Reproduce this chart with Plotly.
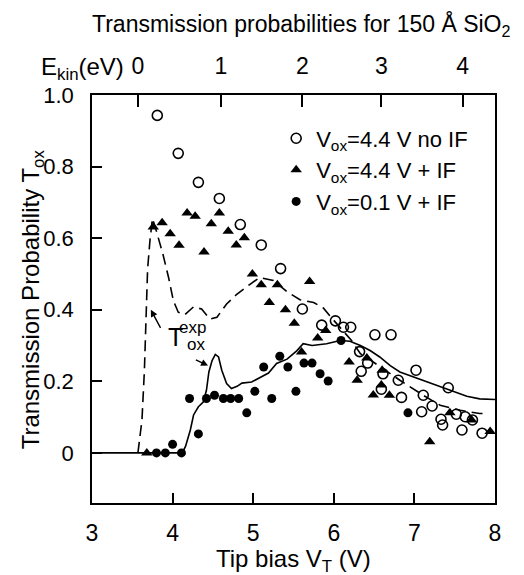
import plotly.graph_objects as go

# ---- data ----
# open circles: Vox = 4.4 V, no IF
no_if_v = [3.81, 4.07, 4.32, 4.58, 4.84, 5.10, 5.34, 5.61, 5.85, 6.02, 6.12, 6.21, 6.32, 6.34,
           6.42, 6.51, 6.59, 6.61, 6.71, 6.80, 6.84, 7.02, 7.09, 7.11, 7.22, 7.33, 7.35, 7.42,
           7.52, 7.59, 7.63, 7.72, 7.84]
no_if_t = [0.943, 0.837, 0.756, 0.711, 0.638, 0.581, 0.515, 0.402, 0.357, 0.369, 0.351, 0.351, 0.283, 0.228,
           0.251, 0.330, 0.178, 0.221, 0.330, 0.203, 0.155, 0.231, 0.115, 0.161, 0.131, 0.094, 0.078, 0.182,
           0.108, 0.064, 0.101, 0.092, 0.055]

# filled triangles: Vox = 4.4 V + IF
if44_v = [3.68, 3.76, 3.87, 3.97, 4.08, 4.18, 4.28, 4.39, 4.48, 4.58, 4.69, 4.79, 4.89, 4.99, 5.10,
          5.20, 5.30, 5.40, 5.51, 5.60, 5.70, 5.80, 5.90, 6.19, 6.29, 6.41, 6.49, 6.59, 6.60, 6.69,
          7.19, 7.44, 7.71, 7.94]
if44_t = [0.0, 0.631, 0.643, 0.612, 0.580, 0.670, 0.661, 0.561, 0.640, 0.670, 0.619, 0.581, 0.601, 0.500, 0.470,
          0.420, 0.470, 0.400, 0.362, 0.282, 0.479, 0.321, 0.342, 0.254, 0.203, 0.265, 0.162, 0.190, 0.231, 0.161,
          0.031, 0.112, 0.092, 0.060]

# filled circles: Vox = 0.1 V + IF
if01_v = [3.80, 3.91, 4.00, 4.11, 4.21, 4.32, 4.42, 4.52, 4.63, 4.72, 4.82, 4.92, 5.02, 5.13, 5.23,
          5.33, 5.43, 5.53, 5.63, 5.73, 5.83, 5.93, 6.09, 6.92]
if01_t = [0.0, 0.0, 0.024, 0.0, 0.152, 0.053, 0.152, 0.161, 0.152, 0.152, 0.152, 0.112, 0.172, 0.240, 0.152,
          0.270, 0.240, 0.172, 0.251, 0.251, 0.221, 0.201, 0.314, 0.112]

# T_ox^exp, solid curve
solid_v = [3.00, 4.00, 4.12, 4.16, 4.22, 4.26, 4.32, 4.38, 4.42, 4.45, 4.49, 4.53, 4.57, 4.61, 4.67,
           4.73, 4.80, 4.86, 4.98, 5.08, 5.19, 5.29, 5.42, 5.54, 5.62, 5.73, 5.91, 6.08, 6.20,
           6.33, 6.45, 6.57, 6.70, 6.82, 6.99, 7.15, 7.32, 7.48, 7.65, 7.81, 8.00]
solid_t = [0.0, 0.0, 0.0, 0.018, 0.064, 0.106, 0.129, 0.142, 0.175, 0.226, 0.258, 0.275, 0.268, 0.231, 0.194,
           0.180, 0.186, 0.195, 0.198, 0.210, 0.223, 0.250, 0.262, 0.285, 0.305, 0.300, 0.305, 0.314, 0.312,
           0.300, 0.286, 0.268, 0.244, 0.226, 0.212, 0.198, 0.183, 0.170, 0.158, 0.151, 0.149]

# T_ox^exp, dashed curve
dash_v = [3.57, 3.62, 3.65, 3.67, 3.69, 3.72, 3.75, 3.80, 3.88, 3.95, 4.01, 4.07, 4.15, 4.26, 4.36,
          4.46, 4.55, 4.67, 4.80, 4.96, 5.08, 5.25, 5.42, 5.58, 5.75, 5.87, 5.95, 6.22, 6.33, 6.43,
          6.82, 7.11, 7.32, 7.57, 7.81, 7.90]
dash_t = [0.0, 0.092, 0.230, 0.369, 0.514, 0.596, 0.655, 0.619, 0.555, 0.490, 0.425, 0.393, 0.386, 0.408, 0.402,
          0.374, 0.379, 0.416, 0.444, 0.471, 0.490, 0.482, 0.450, 0.428, 0.420, 0.405, 0.383, 0.314, 0.277, 0.263,
          0.203, 0.161, 0.133, 0.119, 0.110, 0.110]

# axes
x_tick_vals = [3, 4, 5, 6, 7, 8]
x_tick_text = ["3", "4", "5", "6", "7", "8"]
y_tick_vals = [0, 0.2, 0.4, 0.6, 0.8, 1.0]
y_tick_text = ["0", "0.2", "0.4", "0.6", "0.8", "1.0"]
ekin_tip_bias = [3.57, 4.60, 5.61, 6.59, 7.60]
ekin_labels = ["0", "1", "2", "3", "4"]

FONT = "Arial, Liberation Sans, sans-serif"
BLACK = "black"

fig = go.Figure()

fig.add_trace(go.Scatter(x=solid_v, y=solid_t, mode="lines",
                         line=dict(color=BLACK, width=1.6), showlegend=False, hoverinfo="skip"))
fig.add_trace(go.Scatter(x=dash_v, y=dash_t, mode="lines",
                         line=dict(color=BLACK, width=1.6, dash="11px,6px"), showlegend=False,
                         hoverinfo="skip"))
fig.add_trace(go.Scatter(x=no_if_v, y=no_if_t, mode="markers", name="V<sub>ox</sub>=4.4 V no IF",
                         marker=dict(symbol="circle-open", size=10, color=BLACK, line=dict(width=1.6))))
fig.add_trace(go.Scatter(x=if44_v, y=if44_t, mode="markers", name="V<sub>ox</sub>=4.4 V + IF",
                         marker=dict(symbol="triangle-up", size=10, color=BLACK)))
fig.add_trace(go.Scatter(x=if01_v, y=if01_t, mode="markers", name="V<sub>ox</sub>=0.1 V + IF",
                         marker=dict(symbol="circle", size=9, color=BLACK)))
# invisible trace to anchor the top (E_kin) axis
fig.add_trace(go.Scatter(x=ekin_tip_bias, y=[None] * len(ekin_tip_bias), xaxis="x2",
                         mode="markers", showlegend=False, hoverinfo="skip"))

# the page body has an 8px default margin, so the figure is 8px smaller than the window
fig.update_layout(
    width=516, height=567,
    margin=dict(l=84, r=29, t=87, b=72, autoexpand=False),
    paper_bgcolor="white", plot_bgcolor="white",
    font=dict(family=FONT, size=22, color=BLACK),
    xaxis=dict(range=[3, 8], tickvals=x_tick_vals, ticktext=x_tick_text, automargin=False,
               ticks="inside", ticklen=10, tickwidth=1.5, tickcolor=BLACK,
               showline=True, linecolor=BLACK, linewidth=1.5, mirror=False,
               showgrid=False, zeroline=False, ticklabelstandoff=9,
               tickfont=dict(size=23)),
    xaxis2=dict(range=[3, 8], overlaying="x", side="top", anchor="y", automargin=False,
                tickvals=ekin_tip_bias, ticktext=ekin_labels,
                ticks="inside", ticklen=12, tickwidth=1.5, tickcolor=BLACK,
                showline=True, linecolor=BLACK, linewidth=1.5,
                showgrid=False, zeroline=False, ticklabelstandoff=10,
                tickfont=dict(size=23)),
    yaxis=dict(range=[-0.14, 1.0], tickvals=y_tick_vals, ticktext=y_tick_text, automargin=False,
               ticks="inside", ticklen=10, tickwidth=1.5, tickcolor=BLACK,
               showline=True, linecolor=BLACK, linewidth=1.5, mirror=True,
               showgrid=False, zeroline=False, ticklabelstandoff=12,
               tickfont=dict(size=22)),
    legend=dict(x=0.457, y=0.945, xanchor="left", yanchor="top",
                bgcolor="rgba(0,0,0,0)", font=dict(size=22), tracegroupgap=0,
                itemwidth=30),
    showlegend=True,
)

annotations = [
    dict(text="Transmission probabilities for 150 Å SiO<sub>2</sub>", xref="paper", yref="paper",
         x=0.521, y=1.172, xanchor="center", yanchor="middle", showarrow=False,
         font=dict(size=23)),
    dict(text="E<sub>kin</sub>(eV)", xref="paper", yref="paper",
         x=0.085, y=1.066, xanchor="right", yanchor="middle", showarrow=False,
         font=dict(size=24)),
    dict(text="Tip bias V<sub>T</sub> (V)", xref="paper", yref="paper",
         x=0.5, y=-0.14, xanchor="center", yanchor="middle", showarrow=False,
         font=dict(size=24)),
    dict(text="Transmission Probability T<sub>ox</sub>", xref="paper", yref="paper",
         x=-0.148, y=0.5, xanchor="center", yanchor="middle", showarrow=False,
         textangle=-90, font=dict(size=24)),
    dict(text="T", x=4.03, y=0.325, xref="x", yref="y", showarrow=False,
         font=dict(size=25), xanchor="center", yanchor="middle"),
    dict(text="exp", x=4.25, y=0.35, xref="x", yref="y", showarrow=False,
         font=dict(size=17), xanchor="center", yanchor="middle"),
    dict(text="ox", x=4.29, y=0.302, xref="x", yref="y", showarrow=False,
         font=dict(size=17), xanchor="center", yanchor="middle"),
    # arrows
    dict(x=3.73, y=0.40, ax=3.86, ay=0.345, xref="x", yref="y", axref="x", ayref="y",
         text="", showarrow=True, arrowhead=2, arrowsize=1, arrowwidth=1.4, arrowcolor=BLACK),
    dict(x=4.44, y=0.244, ax=4.27, ay=0.262, xref="x", yref="y", axref="x", ayref="y",
         text="", showarrow=True, arrowhead=2, arrowsize=1, arrowwidth=1.4, arrowcolor=BLACK),
]
fig.update_layout(annotations=annotations)

fig.write_html("out.html")
